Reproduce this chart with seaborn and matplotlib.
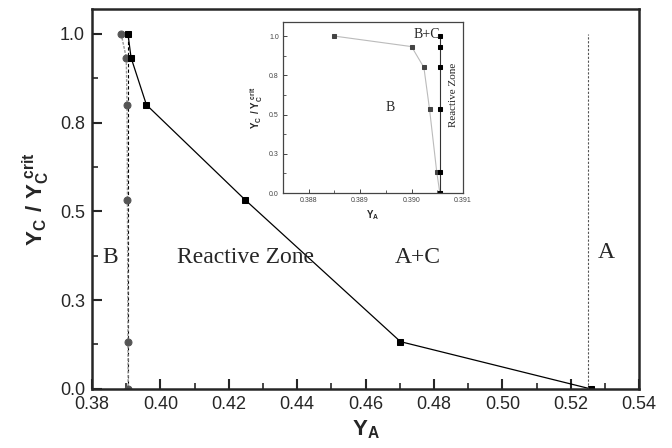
import numpy as np
import pandas as pd
import matplotlib
matplotlib.use('Agg')
import matplotlib.pyplot as plt
from matplotlib.ticker import MultipleLocator, FormatStrFormatter, FuncFormatter
import seaborn as sns

sns.set_style('ticks')
plt.rcParams['font.family'] = ['Liberation Sans', 'DejaVu Sans']
plt.rcParams['mathtext.fontset'] = 'custom'
plt.rcParams['mathtext.bf'] = 'Liberation Sans:bold'
plt.rcParams['mathtext.rm'] = 'Liberation Sans'

# data
y_ratio = [1.0, 0.933, 0.80, 0.533, 0.133, 0.0]
x_B = [0.3885, 0.3900, 0.39024, 0.39035, 0.39049, 0.39055]      # B boundary (grey circles)
x_AC = [0.3905, 0.3914, 0.3959, 0.4247, 0.4702, 0.5258]          # reactive / A+C boundary
x_BC = [0.39055, 0.39055, 0.39055, 0.39055, 0.39055, 0.39055]    # B+C / reactive boundary
x_A = 0.525

df_B = pd.DataFrame({'x': x_B, 'y': y_ratio})
df_AC = pd.DataFrame({'x': x_AC, 'y': y_ratio})
df_BC = pd.DataFrame({'x': x_BC, 'y': y_ratio})

# labels like the original: 0.25 -> 0.3, 0.75 -> 0.8
one_dec = FuncFormatter(lambda v, p: '%.1f' % (np.floor(v * 10 + 0.5) / 10))

fig = plt.figure(figsize=(6.72, 4.48), dpi=100)
ax = fig.add_axes([0.137, 0.132, 0.814, 0.848])

# main plot
ax.vlines(x_BC[0], 0, 1.0, color='black', lw=0.8, ls=(0, (3, 2)))
sns.lineplot(data=df_B, x='x', y='y', sort=False, estimator=None, ax=ax, color='#999999', lw=1.0,
             ls=(0, (2, 1)), marker='o', markersize=5, markerfacecolor='#555555',
             markeredgecolor='#555555')
sns.lineplot(data=df_AC, x='x', y='y', sort=False, estimator=None, ax=ax, color='black', lw=0.9,
             marker='s', markersize=4, markerfacecolor='black', markeredgecolor='black')
ax.vlines(x_A, 0, 1.0, color='#555555', lw=0.8, ls=(0, (2, 1.5)))

ax.set_xlim(0.38, 0.54)
ax.set_ylim(0, 1.07)
ax.xaxis.set_major_locator(MultipleLocator(0.02))
ax.xaxis.set_minor_locator(MultipleLocator(0.01))
ax.yaxis.set_major_locator(MultipleLocator(0.25))
ax.yaxis.set_minor_locator(MultipleLocator(0.125))
ax.xaxis.set_major_formatter(FormatStrFormatter('%.2f'))
ax.yaxis.set_major_formatter(one_dec)
ax.tick_params(which='major', direction='in', length=7, width=1.5, labelsize=13, pad=5)
ax.tick_params(which='minor', direction='in', length=4, width=1.2)
for s in ax.spines.values():
    s.set_linewidth(1.8)
ax.set_xlabel(r'$\mathbf{Y_A}$', fontsize=16, labelpad=4)
ax.set_ylabel(r'$\mathbf{Y_C\ /\ Y_C^{\ crit}}$', fontsize=16, labelpad=6)

serif = ['Liberation Serif', 'DejaVu Serif']
ax.text(0.3853, 0.37, 'B', fontsize=17, family=serif, ha='center', va='center')
ax.text(0.4248, 0.37, 'Reactive Zone', fontsize=17, family=serif, ha='center', va='center')
ax.text(0.4753, 0.37, 'A+C', fontsize=17, family=serif, ha='center', va='center')
ax.text(0.5305, 0.385, 'A', fontsize=17, family=serif, ha='center', va='center')

# inset
ins = fig.add_axes([0.421, 0.569, 0.268, 0.382])
sns.lineplot(data=df_B, x='x', y='y', sort=False, estimator=None, ax=ins, color='#bbbbbb', lw=0.8,
             marker='s', markersize=2.5, markerfacecolor='#444444', markeredgecolor='#444444')
sns.lineplot(data=df_BC, x='x', y='y', sort=False, estimator=None, ax=ins, color='#333333', lw=0.8,
             marker='s', markersize=2.5, markerfacecolor='black', markeredgecolor='black')
ins.set_xlim(0.3875, 0.391)
ins.set_ylim(0, 1.09)
ins.xaxis.set_major_locator(MultipleLocator(0.001))
ins.xaxis.set_minor_locator(MultipleLocator(0.0005))
ins.yaxis.set_major_locator(MultipleLocator(0.25))
ins.yaxis.set_minor_locator(MultipleLocator(0.125))
ins.xaxis.set_major_formatter(FormatStrFormatter('%.3f'))
ins.yaxis.set_major_formatter(one_dec)
ins.tick_params(which='major', direction='in', length=3, width=0.7, labelsize=5, colors='#444444', pad=3)
ins.tick_params(which='minor', direction='in', length=2, width=0.6, colors='#444444')
for s in ins.spines.values():
    s.set_linewidth(0.9)
    s.set_color('#444444')
ins.set_xlabel(r'$\mathbf{Y_A}$', fontsize=7, labelpad=3)
ins.set_ylabel(r'$\mathbf{Y_C\ /\ Y_C^{\ crit}}$', fontsize=7, labelpad=3)
ins.text(0.38958, 0.544, 'B', fontsize=10, family=serif, ha='center', va='center')
ins.text(0.39029, 1.01, 'B+C', fontsize=10, family=serif, ha='center', va='center')
ins.text(0.39081, 0.627, 'Reactive Zone', fontsize=8, family=serif, ha='center', va='center',
         rotation=90)

fig.savefig('out.png', dpi=100)
